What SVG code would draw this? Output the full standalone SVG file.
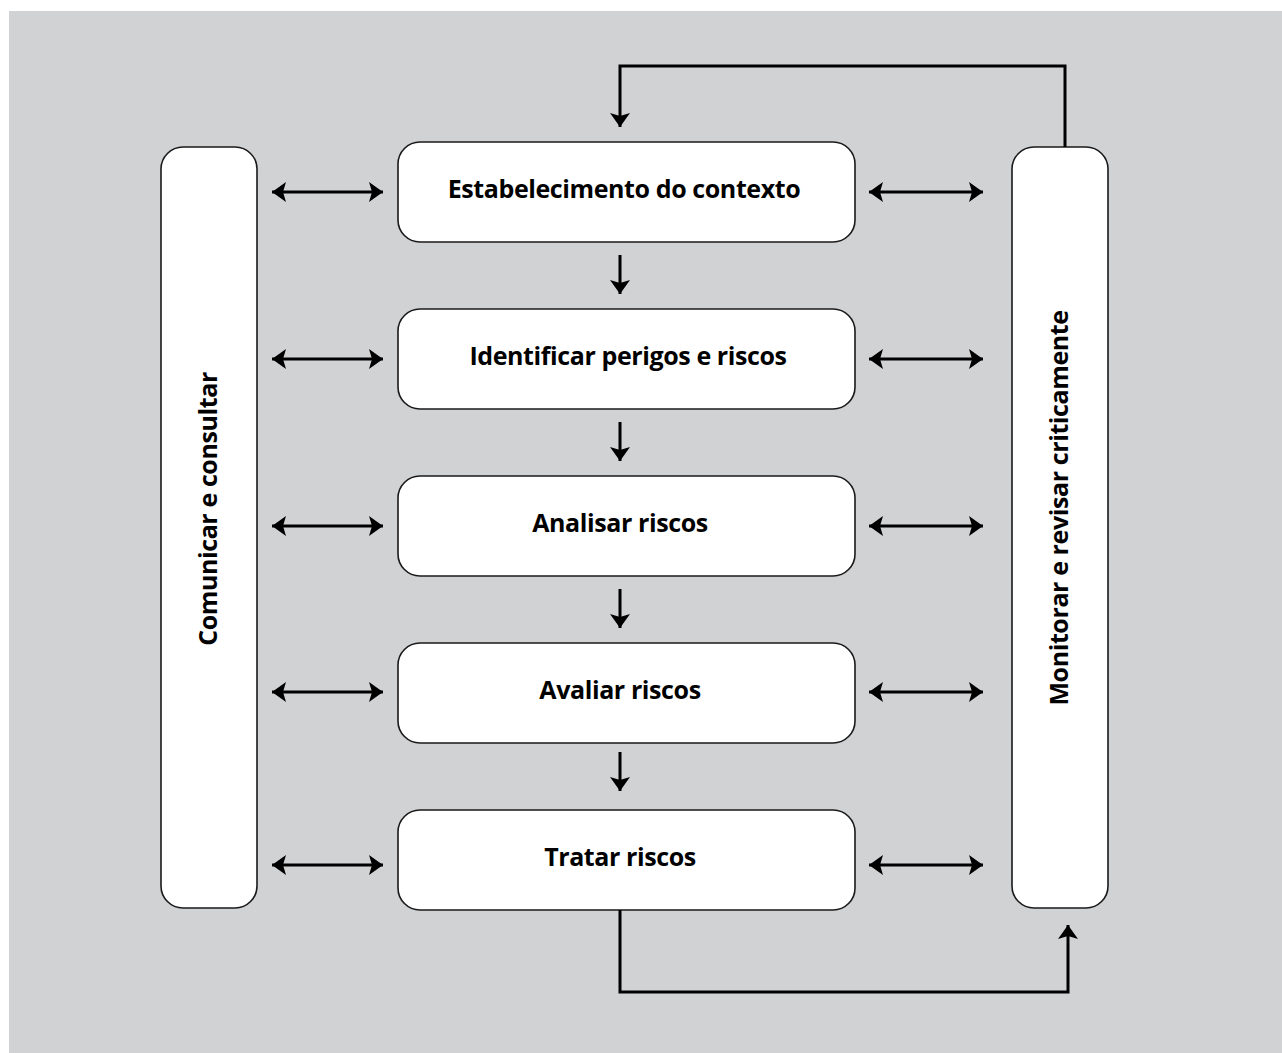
<svg xmlns="http://www.w3.org/2000/svg" width="1282" height="1053" viewBox="0 0 1282 1053">
<defs>
<style>
.bg{fill:#d1d2d4}
.box{fill:#fff;stroke:#1a1a1a;stroke-width:1.6}
.lbl{font-family:"Open Sans","Noto Sans","Liberation Sans",sans-serif;font-weight:bold;font-size:25px;letter-spacing:-0.4px;fill:#000;text-anchor:middle}
.ln{fill:none;stroke:#000;stroke-width:3}
</style>
<marker id="ah" viewBox="0 0 14 20" refX="14" refY="10" markerWidth="14" markerHeight="20" markerUnits="userSpaceOnUse" orient="auto-start-reverse">
<path d="M0,0 L14,10 L0,20 L3,10 Z" fill="#000"/>
</marker>
</defs>
<rect class="bg" x="9" y="11" width="1273" height="1042"/>
<g id="comunicar">
<rect class="box" x="161" y="147" width="96" height="761" rx="22"/>
<text class="lbl" transform="translate(217,509) rotate(-90)">Comunicar e consultar</text>
</g>
<g id="monitorar">
<rect class="box" x="1012" y="147" width="96" height="761" rx="22"/>
<text class="lbl" transform="translate(1068,508) rotate(-90)">Monitorar e revisar criticamente</text>
</g>
<g id="n1">
<rect class="box" x="398" y="142" width="457" height="100" rx="22"/>
<text class="lbl" x="624" y="198">Estabelecimento do contexto</text>
</g>
<g id="n2">
<rect class="box" x="398" y="309" width="457" height="100" rx="22"/>
<text class="lbl" x="628" y="365">Identificar perigos e riscos</text>
</g>
<g id="n3">
<rect class="box" x="398" y="476" width="457" height="100" rx="22"/>
<text class="lbl" x="620" y="532">Analisar riscos</text>
</g>
<g id="n4">
<rect class="box" x="398" y="643" width="457" height="100" rx="22"/>
<text class="lbl" x="620" y="699">Avaliar riscos</text>
</g>
<g id="n5">
<rect class="box" x="398" y="810" width="457" height="100" rx="22"/>
<text class="lbl" x="620" y="866">Tratar riscos</text>
</g>
<g id="connectors">
<path class="ln" d="M272,192 H383" marker-start="url(#ah)" marker-end="url(#ah)"/>
<path class="ln" d="M272,359 H383" marker-start="url(#ah)" marker-end="url(#ah)"/>
<path class="ln" d="M272,526 H383" marker-start="url(#ah)" marker-end="url(#ah)"/>
<path class="ln" d="M272,692 H383" marker-start="url(#ah)" marker-end="url(#ah)"/>
<path class="ln" d="M272,865 H383" marker-start="url(#ah)" marker-end="url(#ah)"/>
<path class="ln" d="M869,192 H983" marker-start="url(#ah)" marker-end="url(#ah)"/>
<path class="ln" d="M869,359 H983" marker-start="url(#ah)" marker-end="url(#ah)"/>
<path class="ln" d="M869,526 H983" marker-start="url(#ah)" marker-end="url(#ah)"/>
<path class="ln" d="M869,692 H983" marker-start="url(#ah)" marker-end="url(#ah)"/>
<path class="ln" d="M869,865 H983" marker-start="url(#ah)" marker-end="url(#ah)"/>
<path class="ln" d="M620,255 V294" marker-end="url(#ah)"/>
<path class="ln" d="M620,422 V461" marker-end="url(#ah)"/>
<path class="ln" d="M620,589 V628" marker-end="url(#ah)"/>
<path class="ln" d="M620,752 V791" marker-end="url(#ah)"/>
<path class="ln" d="M1065,147 V66 H620 V127" marker-end="url(#ah)"/>
<path class="ln" d="M620,910 V992 H1068 V925" marker-end="url(#ah)"/>
</g>
</svg>
